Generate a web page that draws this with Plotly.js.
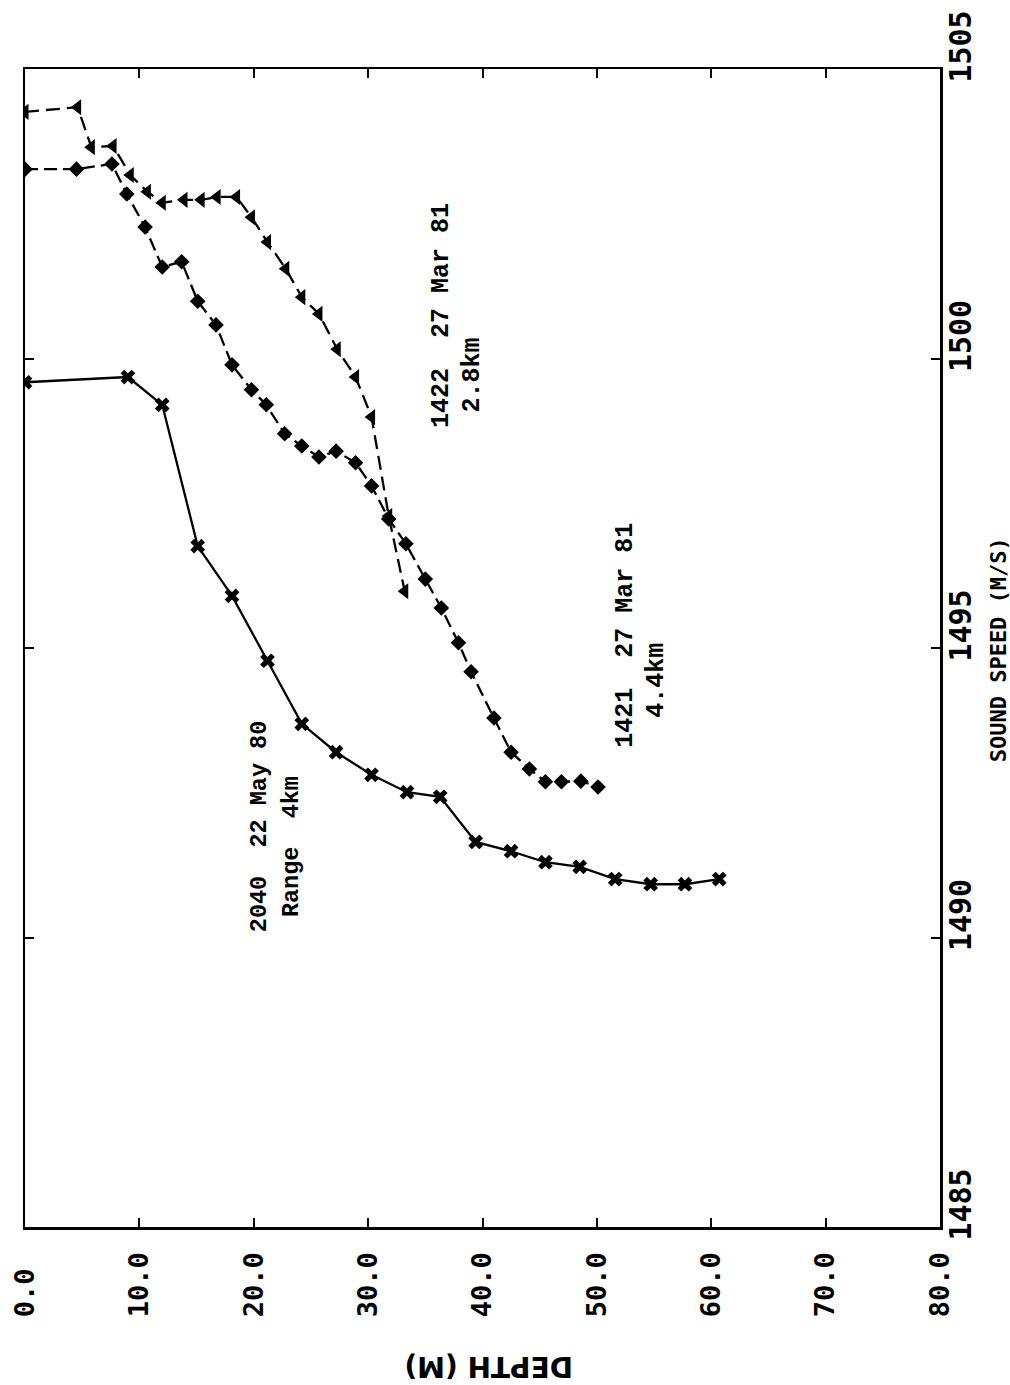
<!DOCTYPE html>
<html>
<head>
<meta charset="utf-8">
<script src="https://cdn.plot.ly/plotly-3.0.1.min.js"></script>
<style>
html,body{margin:0;padding:0;background:#fff;}
#chart{width:1010px;height:1385px;}
</style>
</head>
<body>
<div id="chart"></div>
<script>
// Series: 1422 27 Mar 81, 2.8 km (triangles)
const depth1422 = [0, 4.6, 5.8, 7.7, 9.2, 10.7, 12.0, 13.9, 15.4, 16.8, 18.5, 19.8, 21.2, 22.8, 24.2, 25.7, 27.3, 28.9, 30.3, 31.8, 33.2];
const speed1422 = [1504.26, 1504.34, 1503.65, 1503.67, 1503.17, 1502.88, 1502.69, 1502.74, 1502.74, 1502.79, 1502.79, 1502.44, 1502.01, 1501.55, 1501.06, 1500.77, 1500.16, 1499.68, 1498.99, 1497.28, 1495.98];

// Series: 1421 27 Mar 81, 4.4 km (diamonds)
const depth1421 = [0, 4.5, 7.6, 8.9, 10.5, 12.0, 13.7, 15.1, 16.7, 18.1, 19.8, 21.1, 22.7, 24.2, 25.7, 27.2, 28.9, 30.3, 31.8, 33.3, 35.0, 36.4, 37.9, 39.0, 41.0, 42.5, 44.1, 45.5, 46.9, 48.6, 50.1];
const speed1421 = [1503.27, 1503.27, 1503.36, 1502.84, 1502.27, 1501.58, 1501.67, 1500.99, 1500.58, 1499.89, 1499.46, 1499.20, 1498.70, 1498.49, 1498.30, 1498.40, 1498.20, 1497.80, 1497.23, 1496.80, 1496.19, 1495.69, 1495.09, 1494.59, 1493.79, 1493.20, 1492.91, 1492.69, 1492.69, 1492.70, 1492.60];

// Series: 2040 22 May 80, range 4 km (crosses)
const depth2040 = [0, 9.0, 12.0, 15.1, 18.1, 21.2, 24.2, 27.2, 30.3, 33.4, 36.3, 39.4, 42.5, 45.5, 48.5, 51.6, 54.7, 57.7, 60.7];
const speed2040 = [1499.59, 1499.68, 1499.20, 1496.76, 1495.90, 1494.78, 1493.69, 1493.20, 1492.81, 1492.51, 1492.43, 1491.65, 1491.49, 1491.30, 1491.22, 1491.01, 1490.92, 1490.92, 1491.01];

// Axis ticks
const depthTickVals = [0, 10, 20, 30, 40, 50, 60, 70, 80];
const depthTickText = ["0.0", "10.0", "20.0", "30.0", "40.0", "50.0", "60.0", "70.0", "80.0"];
const speedTickVals = [1485, 1490, 1495, 1500, 1505];
const speedTickText = ["1485", "1490", "1495", "1500", "1505"];

const NB = "\u00a0";
const depthLabels = depthTickText.map(t => t.length < 4 ? t + NB : t);
const speedLabels = speedTickText.map(t => NB + NB + t);

const traces = [
  {x: depth1422, y: speed1422, mode: 'lines+markers', name: '1422 27 Mar 81 2.8km',
   line: {color: '#000', width: 2.3, dash: '14px,7px'},
   marker: {symbol: 'triangle-left', size: 14, color: '#000'}},
  {x: depth1421, y: speed1421, mode: 'lines+markers', name: '1421 27 Mar 81 4.4km',
   line: {color: '#000', width: 2.3, dash: '13px,6px'},
   marker: {symbol: 'diamond', size: 12, color: '#000'}},
  {x: depth2040, y: speed2040, mode: 'lines+markers', name: '2040 22 May 80 Range 4km',
   line: {color: '#000', width: 2.3},
   marker: {symbol: 'x', size: 13, color: '#000'}}
];

const noteFont = {family: 'Liberation Mono, DejaVu Sans Mono, monospace', size: 25, color: '#000', weight: 'bold'};
function note(text, x, y, size) {
  return {text: text, x: x, y: y, xref: 'x', yref: 'y', showarrow: false, textangle: -90,
          xanchor: 'center', yanchor: 'middle', font: Object.assign({}, noteFont, size ? {size: size} : {})};
}

const layout = {
  width: 1010, height: 1385,
  margin: {l: 25, r: 70, t: 69, b: 158},
  paper_bgcolor: '#fff', plot_bgcolor: '#fff',
  showlegend: false,
  xaxis: {
    range: [0, 80], tickvals: depthTickVals, ticktext: depthLabels,
    tickangle: -90, ticks: 'inside', ticklen: 9, tickwidth: 2, tickcolor: '#000',
    showline: true, linecolor: '#000', linewidth: 2.5, mirror: 'ticks',
    showgrid: false, zeroline: false,
    tickfont: {family: 'DejaVu Sans Mono, monospace', size: 27, color: '#000', weight: 'bold'},
    ticklabelstandoff: 12
  },
  yaxis: {
    range: [1485, 1505], side: 'right', tickvals: speedTickVals, ticktext: speedLabels,
    tickangle: -90, ticks: 'inside', ticklen: 9, tickwidth: 2, tickcolor: '#000',
    showline: true, linecolor: '#000', linewidth: 2.5, mirror: 'ticks',
    showgrid: false, zeroline: false,
    tickfont: {family: 'DejaVu Sans Mono, monospace', size: 30, color: '#000', weight: 'bold'},
    ticklabelstandoff: -8
  },
  annotations: [
    note('1422  27 Mar 81', 36.4, 1500.74),
    note('2.8km', 39.1, 1499.71),
    note('1421  27 Mar 81', 52.5, 1495.22),
    note('4.4km', 55.2, 1494.44),
    note('2040  22 May 80', 20.5, 1491.93, 23.5),
    note('Range  4km', 23.3, 1491.57, 23.5),
    {text: 'DEPTH (M)', xref: 'paper', yref: 'paper', x: 0.506, y: -0.121, showarrow: false,
     textangle: 180, xanchor: 'center', yanchor: 'middle',
     font: {family: 'DejaVu Sans, sans-serif', size: 28, color: '#000', weight: 'bold'}},
    {text: 'SOUND SPEED (M/S)', xref: 'paper', yref: 'paper', x: 1.0634, y: 0.498, showarrow: false,
     textangle: -90, xanchor: 'center', yanchor: 'middle',
     font: {family: 'DejaVu Sans Mono, monospace', size: 22, color: '#000', weight: 'bold'}}
  ]
};

Plotly.newPlot('chart', traces, layout, {staticPlot: true, displayModeBar: false});
</script>
</body>
</html>
